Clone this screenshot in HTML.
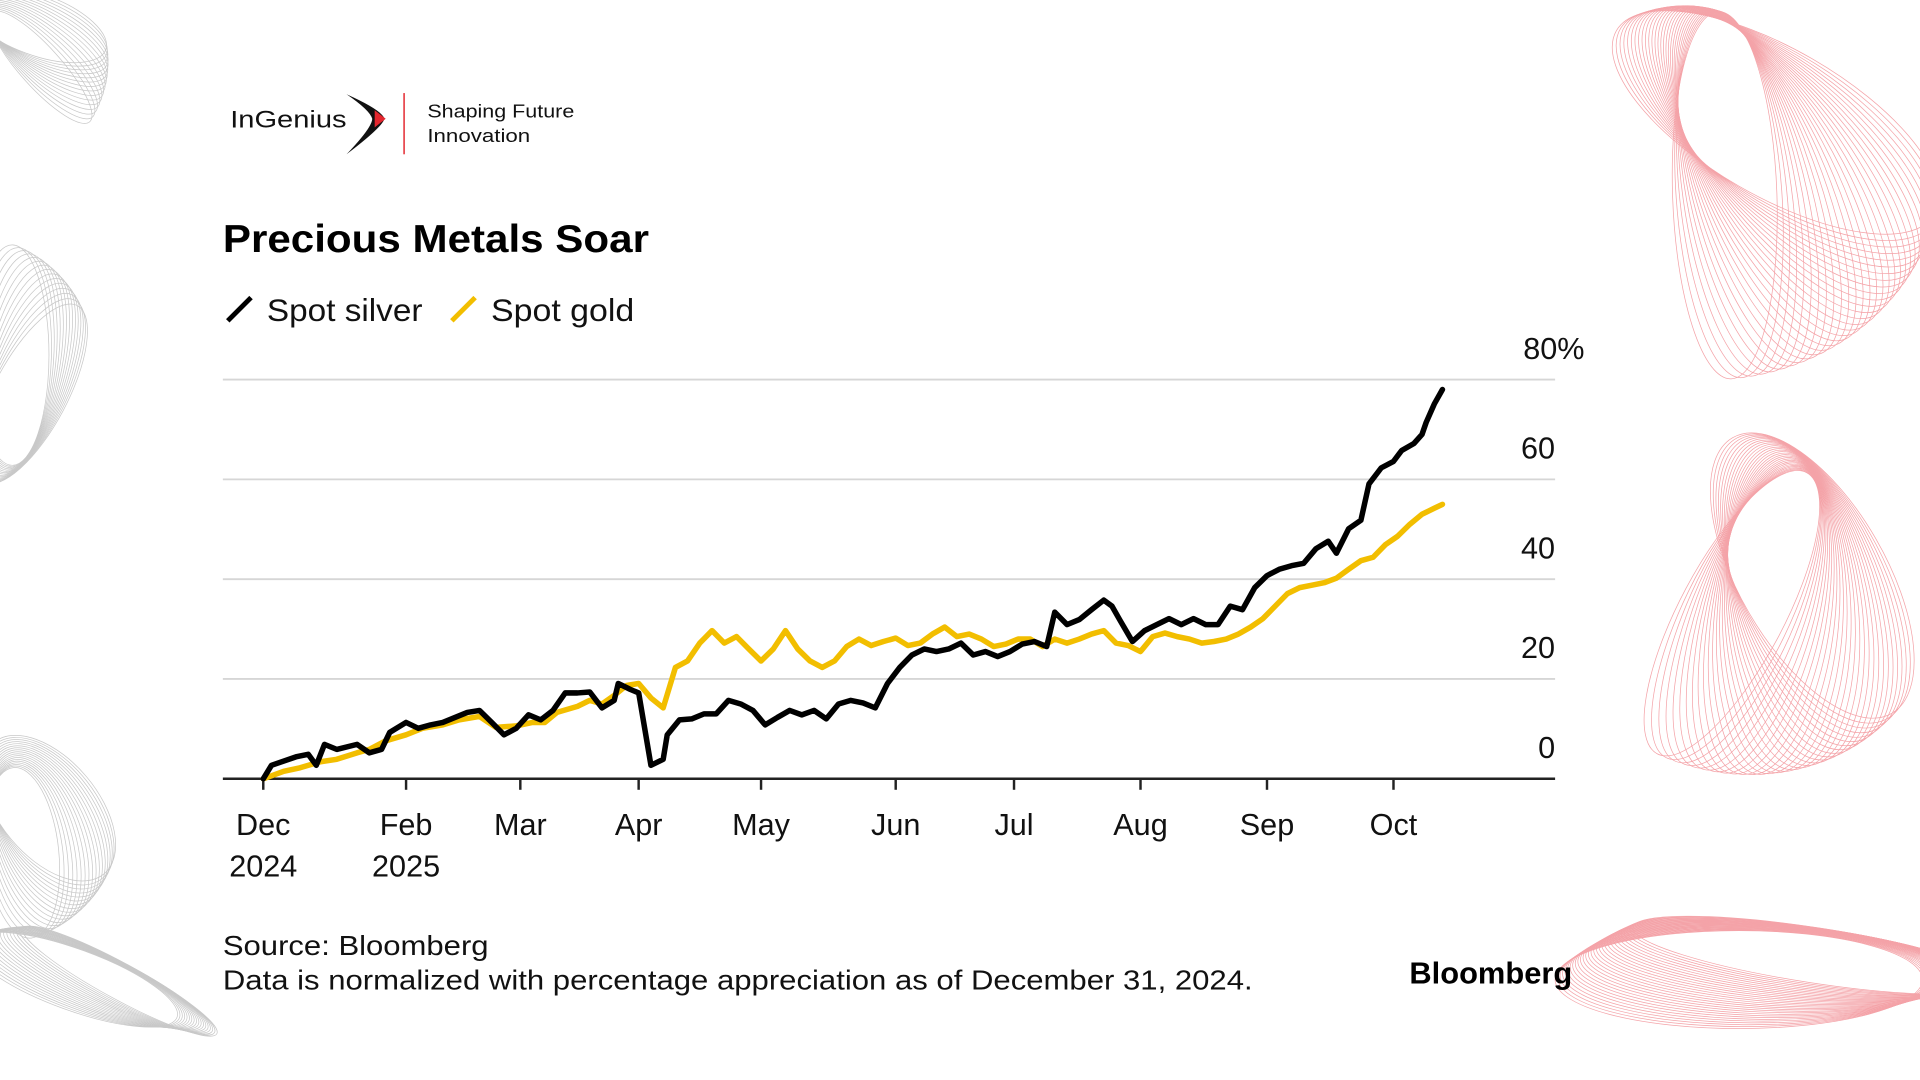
<!DOCTYPE html>
<html><head><meta charset="utf-8"><style>
html,body{margin:0;padding:0;background:#fff;width:1920px;height:1080px;overflow:hidden}
svg{display:block;overflow:hidden}
text{font-family:"Liberation Sans",Arial,sans-serif}
</style></head><body>
<svg id="chart" width="1920" height="1080" viewBox="0 0 1568 882" xmlns="http://www.w3.org/2000/svg">
<defs><clipPath id="frame"><rect x="0" y="0" width="1568" height="882"/></clipPath></defs>
<g id="deco" clip-path="url(#frame)"></g>
<g>
<text x="188" y="104" font-size="20" fill="#111" textLength="95" lengthAdjust="spacingAndGlyphs">InGenius</text>
<path d="M283 77 Q312 90 314 97 Q312 104 283 126 Q304 104 304 97 Q302 90 283 77Z" fill="#111"/>
<path d="M306 90 L315 97 L306 104Z" fill="#e3262e"/>
<line x1="330" y1="76" x2="330" y2="126" stroke="#e3262e" stroke-width="1.2"/>
<text x="349" y="96" font-size="15" fill="#111" textLength="120" lengthAdjust="spacingAndGlyphs">Shaping Future</text>
<text x="349" y="116" font-size="15" fill="#111" textLength="84" lengthAdjust="spacingAndGlyphs">Innovation</text>
</g>
<text x="182" y="206" font-size="32" font-weight="bold" fill="#000" textLength="348" lengthAdjust="spacingAndGlyphs">Precious Metals Soar</text>
<g>
<line x1="186" y1="262" x2="205" y2="243" stroke="#000" stroke-width="4"/>
<text x="218" y="262" font-size="26" fill="#111" textLength="127" lengthAdjust="spacingAndGlyphs">Spot silver</text>
<line x1="369" y1="262" x2="388" y2="243" stroke="#f2be00" stroke-width="4"/>
<text x="401" y="262" font-size="26" fill="#111" textLength="117" lengthAdjust="spacingAndGlyphs">Spot gold</text>
</g>
<g id="grid"></g>
<g id="series"></g>
<text x="182" y="780" font-size="23" fill="#111" textLength="217" lengthAdjust="spacingAndGlyphs">Source: Bloomberg</text>
<text x="182" y="808" font-size="23" fill="#111" textLength="841" lengthAdjust="spacingAndGlyphs">Data is normalized with percentage appreciation as of December 31, 2024.</text>
<text x="1151" y="803" font-size="25" font-weight="bold" fill="#000" textLength="133" lengthAdjust="spacingAndGlyphs">Bloomberg</text>
</svg>
<script>
const yTicks = [0, 20, 40, 60, 80];
const monthLabels = ["Dec", "Feb", "Mar", "Apr", "May", "Jun", "Jul", "Aug", "Sep", "Oct"];
const monthYears = ["2024", "2025", "", "", "", "", "", "", "", ""];
const monthDays = [0, 35, 63, 92, 122, 155, 184, 215, 246, 277];
const silverDays = [0,2,8,11,13,15,18,23,26,29,31,35,38,41,44,47,50,53,56,59,62,65,68,71,74,77,80,83,86,87,90,92,95,98,99,102,105,108,111,114,117,120,123,126,129,132,135,138,141,144,147,150,153,156,159,162,165,168,171,174,177,180,183,186,189,192,194,197,200,203,206,208,210,213,216,219,222,225,228,231,234,237,240,243,246,249,252,255,258,261,263,266,269,271,274,277,279,282,284,285,287,289];
const silverValues = [0,2.7,4.4,4.9,2.7,6.9,5.9,6.9,5.2,5.9,9.3,11.3,10.1,10.8,11.3,12.3,13.3,13.7,11.3,8.8,10.1,12.8,11.8,13.7,17.2,17.2,17.4,14.2,15.7,19.1,17.9,17.2,2.7,3.9,8.8,11.8,12.0,13.0,13.0,15.7,15.0,13.7,10.8,12.3,13.7,12.8,13.7,12.0,15.0,15.7,15.2,14.2,19.1,22.3,24.8,26.0,25.5,26.0,27.2,24.8,25.5,24.5,25.5,27.0,27.5,26.5,33.4,30.9,31.9,33.9,35.8,34.6,31.7,27.5,29.7,30.9,32.1,30.9,32.1,30.9,30.9,34.6,33.9,38.3,40.7,42.0,42.7,43.2,46.1,47.6,45.2,50.1,51.8,59.1,62.3,63.6,65.8,67.2,69.0,71.4,75.1,78.0];
const goldDays = [0,5,9,14,18,23,26,30,35,39,44,48,53,57,62,66,69,72,77,80,83,86,89,92,95,98,101,104,107,110,113,116,119,122,125,128,131,134,137,140,143,146,149,152,155,158,161,164,167,170,173,176,179,182,185,188,191,194,197,200,203,206,209,212,215,218,221,224,227,230,233,236,239,242,245,248,251,254,257,260,263,266,269,272,275,278,281,284,287,289];
const goldValues = [0,1.5,2.2,3.4,3.9,5.2,5.9,7.6,8.8,10.1,10.8,11.8,12.5,10.3,10.6,11.3,11.3,13.3,14.5,15.7,15.0,16.7,18.7,19.1,16.2,14.2,22.3,23.6,27.2,29.7,27.2,28.5,26.0,23.6,26.0,29.7,26.0,23.6,22.3,23.6,26.5,28.0,26.7,27.5,28.2,26.7,27.2,29.0,30.4,28.5,29.0,28.0,26.5,27.0,28.0,28.0,26.5,28.0,27.2,28.0,29.0,29.7,27.2,26.7,25.5,28.5,29.2,28.5,28.0,27.2,27.5,28.0,29.0,30.4,32.1,34.6,37.1,38.3,38.8,39.3,40.2,42.0,43.7,44.4,46.9,48.6,51.0,53.0,54.2,55.0];

const NS = "http://www.w3.org/2000/svg";
const xScale = d => 215 + d * (1178 - 215) / 289;
const yScale = v => 636 - v * (636 - 310) / 80;
const grid = document.getElementById('grid');
function mk(tag, attrs, parent) { const e = document.createElementNS(NS, tag); for (const k in attrs) e.setAttribute(k, attrs[k]); parent.appendChild(e); return e; }

yTicks.forEach((t, i) => {
  if (t > 0) {
    const l = mk('line', {x1: 182, x2: 1270, y1: yScale(t), y2: yScale(t), stroke: '#d6d6d6', 'stroke-width': 1.5}, grid);
    
    
  }
  const tx = mk('text', {x: 1270, y: yScale(t) - 17, 'font-size': 25, fill: '#111', 'text-anchor': 'end'}, grid);
  if (t === 80) { tx.setAttribute('x', 1294); }
  tx.textContent = t === 80 ? t + '%' : String(t);
  
  
});
const axis = mk('line', {x1: 182, x2: 1270, y1: 636, y2: 636, stroke: '#222', 'stroke-width': 2}, grid);


monthLabels.forEach((m, i) => {
  const x = xScale(monthDays[i]);
  const tk = mk('line', {x1: x, x2: x, y1: 636, y2: 645, stroke: '#222', 'stroke-width': 2}, grid);
  
  
  const t = mk('text', {x: x, y: 682, 'font-size': 25, fill: '#111', 'text-anchor': 'middle'}, grid);
  t.textContent = m;
  
  
  if (monthYears[i]) {
    const t2 = mk('text', {x: x, y: 716, 'font-size': 25, fill: '#111', 'text-anchor': 'middle'}, grid);
    t2.textContent = monthYears[i];
    
    
  }
});
const series = document.getElementById('series');
function line(days, vals, color, name) {
  const d = days.map((dd, i) => (i ? 'L' : 'M') + xScale(dd).toFixed(1) + ' ' + yScale(vals[i]).toFixed(1)).join(' ');
  const p = mk('path', {d: d, fill: 'none', stroke: color, 'stroke-width': 4.5, 'stroke-linejoin': 'round', 'stroke-linecap': 'round'}, series);
  
  
}
line(goldDays, goldValues, '#f2be00', 'gold-line');
line(silverDays, silverValues, '#000', 'silver-line');

const deco = document.getElementById('deco');
function swirl(cx, cy, rx, ry, rot0, n, color, rotStep, dy) {
  for (let i = 0; i < n; i++) {
    mk('ellipse', {cx: cx + i * 2, cy: cy + i * dy, rx: rx, ry: ry - i * 0.6, fill: 'none', stroke: color, 'stroke-width': 0.6, transform: 'rotate(' + (rot0 + i * rotStep) + ' ' + cx + ' ' + cy + ')'}, deco);
  }
}
swirl(1450, 100, 150, 60, 30, 30, '#f4a3a8', 2, 1.5);
swirl(1480, 470, 130, 60, 60, 30, '#f4a3a8', 2, 1.5);
swirl(1420, 800, 150, 40, 0, 30, '#f4a3a8', 0.3, -1);
swirl(30, 20, 60, 25, 20, 15, '#c8c8c8', 2, 1.5);
swirl(10, 290, 30, 90, 0, 15, '#c8c8c8', 2, 1.5);
swirl(40, 660, 70, 40, 50, 18, '#c8c8c8', 2, 1.5);
swirl(60, 800, 90, 25, 20, 18, '#c8c8c8', 0.5, -1);
</script>
</body></html>
